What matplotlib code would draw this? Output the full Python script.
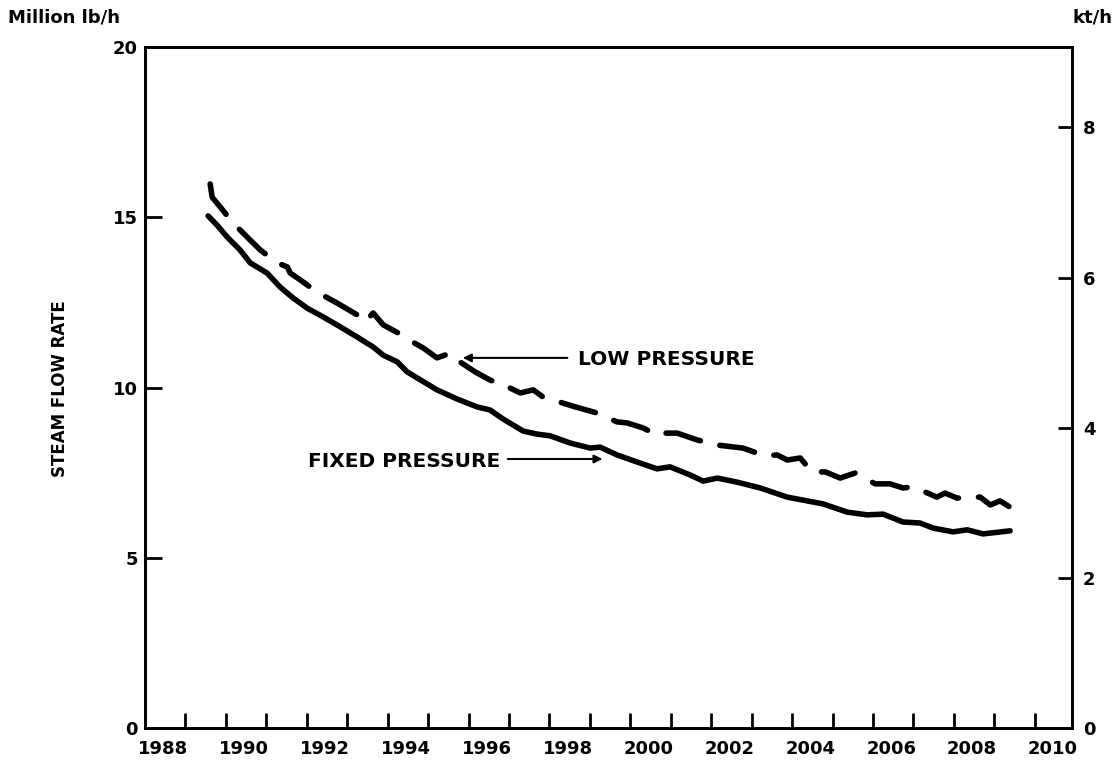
import matplotlib.pyplot as plt
import numpy as np

# fixed pressure (solid line), Million lb/h
fixed_year = [1989.11, 1989.33, 1989.58, 1989.90, 1990.15, 1990.32, 1990.57, 1990.89,
              1991.21, 1991.56, 1991.96, 1992.38, 1992.80, 1993.19, 1993.44, 1993.79,
              1994.03, 1994.28, 1994.77, 1995.27, 1995.76, 1996.08, 1996.41, 1996.90,
              1997.25, 1997.57, 1998.06, 1998.56, 1998.80, 1999.22, 1999.72, 2000.21,
              2000.53, 2001.03, 2001.35, 2001.70, 2002.19, 2002.76, 2003.43, 2004.32,
              2004.91, 2005.40, 2005.80, 2006.29, 2006.71, 2007.04, 2007.53, 2007.88,
              2008.27, 2008.94]
fixed_flow = [15.04, 14.77, 14.42, 14.04, 13.66, 13.54, 13.36, 12.95,
              12.63, 12.33, 12.07, 11.78, 11.48, 11.19, 10.95, 10.75,
              10.46, 10.28, 9.93, 9.66, 9.43, 9.34, 9.07, 8.72,
              8.63, 8.58, 8.37, 8.22, 8.25, 8.02, 7.81, 7.61,
              7.67, 7.43, 7.25, 7.34, 7.22, 7.05, 6.78, 6.58,
              6.34, 6.26, 6.28, 6.05, 6.02, 5.87, 5.76, 5.82,
              5.70, 5.79]

# low pressure (dashed line)
low_year = [1989.16, 1989.21, 1989.41, 1989.73, 1990.15, 1990.40, 1990.82, 1991.07,
            1991.14, 1991.39, 1991.63, 1991.93, 1992.30, 1992.80, 1992.99, 1993.19,
            1993.44, 1993.81, 1994.16, 1994.43, 1994.77, 1995.10, 1995.34, 1995.71,
            1996.08, 1996.53, 1996.83, 1997.15, 1997.39, 1997.89, 1998.19, 1998.73,
            1999.22, 1999.47, 1999.87, 2000.21, 2000.36, 2000.71, 2001.20, 2001.70,
            2002.34, 2002.88, 2003.18, 2003.43, 2003.75, 2004.04, 2004.37, 2004.74,
            2005.11, 2005.36, 2005.60, 2005.97, 2006.29, 2006.54, 2006.84, 2007.13,
            2007.33, 2007.63, 2007.90, 2008.20, 2008.45, 2008.69, 2009.01]
low_flow = [15.98, 15.59, 15.30, 14.83, 14.33, 14.04, 13.66, 13.54,
            13.36, 13.16, 12.95, 12.72, 12.48, 12.13, 11.92, 12.19,
            11.84, 11.60, 11.34, 11.16, 10.87, 11.01, 10.75, 10.46,
            10.22, 10.01, 9.84, 9.93, 9.72, 9.54, 9.43, 9.25,
            8.99, 8.96, 8.81, 8.60, 8.66, 8.66, 8.46, 8.31,
            8.22, 7.99, 8.02, 7.87, 7.93, 7.52, 7.52, 7.34,
            7.49, 7.34, 7.17, 7.17, 7.05, 7.08, 6.93, 6.78,
            6.90, 6.75, 6.78, 6.78, 6.55, 6.67, 6.43]

year_labels = list(range(1988, 2011, 2))
left_ticks = [0, 5, 10, 15, 20]
right_ticks = [0, 2, 4, 6, 8]
KT_PER_MLB = 0.45359

plt.rcParams['font.family'] = ['DejaVu Sans']
plt.rcParams['font.weight'] = 'bold'

fig = plt.figure(figsize=(11.19, 7.61), dpi=100)
ax = fig.add_axes([0.1296, 0.0434, 0.8284, 0.8948])

ax.plot(fixed_year, fixed_flow, color='black', lw=4.0,
        solid_capstyle='round', solid_joinstyle='round')
ln, = ax.plot(low_year, low_flow, color='black', lw=4.0,
              dash_capstyle='round', dash_joinstyle='round')
ln.set_dashes((6.4, 3.6))

ax.set_xlim(1987.55, 2010.47)
ax.set_ylim(0, 20)
ax.set_xticks(year_labels)
ax.set_xticklabels([str(y) for y in year_labels])
ax.set_xticks(np.arange(1988, 2010) + 0.55, minor=True)
ax.tick_params(axis='x', which='major', length=0, pad=9, labelsize=13)
ax.tick_params(axis='x', which='minor', direction='in', length=11, width=2)
ax.set_yticks(left_ticks)
ax.tick_params(axis='y', direction='in', length=12, width=2, pad=5, labelsize=13)
for s in ax.spines.values():
    s.set_linewidth(2)

ax2 = ax.twinx()
ax2.set_ylim(0, 20 * KT_PER_MLB)
ax2.set_yticks(right_ticks)
ax2.tick_params(axis='y', direction='in', length=10, width=2, pad=8, labelsize=13)
for s in ax2.spines.values():
    s.set_linewidth(2)

# labels
ax.text(1998.26, 10.81, 'LOW PRESSURE', fontsize=14.5, ha='left', va='center')
ax.annotate('', xy=(1995.34, 10.87), xytext=(1998.06, 10.87),
            arrowprops=dict(arrowstyle='-|>', color='black', lw=1.5, mutation_scale=12))
ax.text(1996.33, 7.84, 'FIXED PRESSURE', fontsize=14.5, ha='right', va='center')
ax.annotate('', xy=(1998.93, 7.90), xytext=(1996.45, 7.90),
            arrowprops=dict(arrowstyle='-|>', color='black', lw=1.5, mutation_scale=12))

fig.text(8 / 1119, 1 - 17 / 761, 'Million lb/h', fontsize=13, ha='left', va='center')
fig.text(1113 / 1119, 1 - 17 / 761, 'kt/h', fontsize=13, ha='right', va='center')
fig.text(60 / 1119, 0.489, 'STEAM FLOW RATE', fontsize=12, rotation=90,
         ha='center', va='center')

fig.savefig('out.png', dpi=100)
